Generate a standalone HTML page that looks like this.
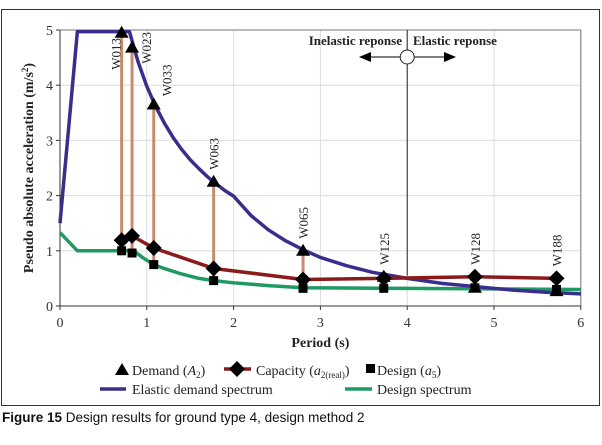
<!DOCTYPE html>
<html><head><meta charset="utf-8"><style>
body{margin:0;background:#fff;width:602px;height:445px;overflow:hidden;font-family:"Liberation Serif",serif}
.cap{position:absolute;left:2px;top:410px;font-family:"Liberation Sans",sans-serif;font-size:13.5px;color:#111}
</style></head><body>
<svg id="c" width="602" height="445" style="position:absolute;left:0;top:0"></svg>
<div class="cap"><b>Figure 15</b> Design results for ground type 4, design method 2</div>
<script>
const xTicks=[0,1,2,3,4,5,6];
const yTicks=[0,1,2,3,4,5];
const elasticT=[0,0.2,0.8,0.9,1.0,1.1,1.2,1.3,1.4,1.5,1.6,1.7,1.8,1.9,2.0,2.2,2.4,2.6,2.8,3.0,3.3,3.6,4.0,4.4,4.8,5.2,5.6,6.0];
const elasticA=[1.5,4.97,4.97,4.42,3.98,3.62,3.32,3.06,2.84,2.65,2.49,2.34,2.21,2.09,1.99,1.64,1.38,1.18,1.02,0.88,0.73,0.61,0.5,0.41,0.35,0.29,0.25,0.22];
const designT=[0,0.2,0.85,0.95,1.08,1.2,1.4,1.6,1.77,2.0,2.4,2.8,4,5,6];
const designA=[1.33,1.0,1.0,0.88,0.75,0.68,0.58,0.5,0.46,0.42,0.37,0.33,0.32,0.31,0.3];
const capT=[0.83,1.08,1.77,2.8,3.73,4.78,5.72];
const capA=[1.27,1.05,0.68,0.48,0.5,0.53,0.5];
const wallNames=["W013","W023","W033","W063","W065","W125","W128","W188"];
const periods=[0.71,0.83,1.08,1.77,2.8,3.73,4.78,5.72];
const demand=[4.95,4.68,3.65,2.25,1.0,0.53,0.33,0.27];
const capacity=[1.19,1.27,1.05,0.68,0.48,0.5,0.53,0.5];
const design=[1.0,0.96,0.75,0.46,0.32,0.32,0.33,0.3];
const svg=document.getElementById('c');
const NS='http://www.w3.org/2000/svg';
const X=t=>60+86.8*t, Y=a=>306-55.2*a;
function el(tag,at,par){const e=document.createElementNS(NS,tag);for(const k in at)e.setAttribute(k,at[k]);(par||svg).appendChild(e);return e;}
let r=el('rect',{x:1.5,y:9.5,width:598,height:396,fill:'none',stroke:'#333'});


yTicks.forEach(v=>{let g=el('line',{x1:60,x2:581,y1:Y(v),y2:Y(v),stroke:'#ddd'});


let t=el('text',{x:53,y:Y(v)+5,'text-anchor':'end','font-size':14,fill:'#333'});t.textContent=v;


el('line',{x1:56,x2:60,y1:Y(v),y2:Y(v),stroke:'#333'});});
xTicks.forEach(v=>{let g=el('line',{x1:X(v),x2:X(v),y1:30,y2:306,stroke:'#ddd'});


let t=el('text',{x:X(v),y:327,'text-anchor':'middle','font-size':14,fill:'#333'});t.textContent=v;


el('line',{x1:X(v),x2:X(v),y1:306,y2:310,stroke:'#333'});});
el('rect',{x:60,y:Y(5),width:X(6)-60,height:306-Y(5),fill:'none',stroke:'#777'});
el('line',{x1:60,x2:581,y1:306,y2:306,stroke:'#333'});
el('line',{x1:60,x2:60,y1:30,y2:306,stroke:'#333'});
el('line',{x1:X(4),x2:X(4),y1:30,y2:Y(0.55),stroke:'#222','stroke-width':1});
el('line',{x1:368,x2:400,y1:57,y2:57,stroke:'#000'});
el('polygon',{points:'359,57 371,52 371,62',fill:'#000'});
el('line',{x1:414,x2:446,y1:57,y2:57,stroke:'#000'});
el('polygon',{points:'456,57 444,52 444,62',fill:'#000'});
let ci=el('circle',{cx:X(4),cy:57,r:7,fill:'#fff',stroke:'#222'});


let t1=el('text',{x:402,y:45,'text-anchor':'end','font-size':13,'font-weight':'bold',fill:'#222'});t1.textContent='Inelastic reponse';


let t2=el('text',{x:413,y:45,'font-size':13,'font-weight':'bold',fill:'#222'});t2.textContent='Elastic reponse';


function poly(T,A,col,w,name){let p=el('polyline',{points:T.map((t,i)=>X(t)+','+Y(A[i])).join(' '),fill:'none',stroke:col,'stroke-width':w,'stroke-linejoin':'round'});

}
periods.forEach((t,i)=>{if(i<5){let l=el('line',{x1:X(t),x2:X(t),y1:Y(demand[i]),y2:Y(design[i]),stroke:'#c98c6b','stroke-width':3});

}});
poly(designT,designA,'#1f9a63',3.5,'design-spectrum-line');
poly(elasticT,elasticA,'#3a2e8c',3.5,'elastic-spectrum-line');
poly(capT,capA,'#8b1a1a',3.5,'capacity-line');
periods.forEach((t,i)=>{
const x=X(t);
let s=el('rect',{x:x-4.5,y:Y(design[i])-4.5,width:9,height:9,fill:'#000'});


let yc=Y(capacity[i]);
let d=el('polygon',{points:`${x},${yc-8} ${x+8},${yc} ${x},${yc+8} ${x-8},${yc}`,fill:'#000'});


let yd=Y(demand[i]);
let tr=el('polygon',{points:`${x},${yd-7} ${x+7},${yd+5} ${x-7},${yd+5}`,fill:'#000'});


let lx,ly,anchor='start';
if(i==0){lx=x-1;ly=38;anchor='end';}
else if(i==1){lx=x+19;ly=32;anchor='end';}
else if(i==2){lx=x+18;ly=Y(demand[i])-40;anchor='end';}
else {lx=x+5;ly=Math.min(yd,yc)-12;}
let lb=el('text',{x:0,y:0,'font-size':13,fill:'#222','text-anchor':anchor,transform:`translate(${lx},${ly}) rotate(-90)`});
lb.textContent=wallNames[i];


});
let xt=el('text',{x:X(3),y:347,'text-anchor':'middle','font-size':14,'font-weight':'bold',fill:'#222'});xt.textContent='Period (s)';


let yt=el('text',{x:0,y:0,'text-anchor':'middle','font-size':14,'font-weight':'bold',fill:'#222',transform:'translate(33,168) rotate(-90)'});
yt.innerHTML='Pseudo absolute acceleration (m/s<tspan baseline-shift="super" font-size="9">2</tspan>)';


function lt(x,y,html,name){let t=el('text',{x:x,y:y,'font-size':14,fill:'#222'});t.innerHTML=html;

}
el('polygon',{points:'122,363 129,375 115,375',fill:'#000'});
lt(132,375,'Demand (<tspan font-style="italic">A</tspan><tspan font-size="9" dy="3">2</tspan><tspan dy="-3">)</tspan>','legend-demand');
el('line',{x1:224,x2:251,y1:369,y2:369,stroke:'#8b1a1a','stroke-width':3.5});
el('polygon',{points:'237,361 245,369 237,377 229,369',fill:'#000'});
lt(256,375,'Capacity (<tspan font-style="italic">a</tspan><tspan font-size="9" dy="3">2(real)</tspan><tspan dy="-3">)</tspan>','legend-capacity');
el('rect',{x:366,y:364,width:9,height:9,fill:'#000'});
lt(377,375,'Design (<tspan font-style="italic">a</tspan><tspan font-size="9" dy="3">5</tspan><tspan dy="-3">)</tspan>','legend-design');
el('line',{x1:100,x2:126,y1:389,y2:389,stroke:'#3a2e8c','stroke-width':3.5});
lt(132,394,'Elastic demand spectrum','legend-elastic-spectrum');
el('line',{x1:345,x2:372,y1:389,y2:389,stroke:'#1f9a63','stroke-width':3.5});
lt(377,394,'Design spectrum','legend-design-spectrum');
</script>
</body></html>
